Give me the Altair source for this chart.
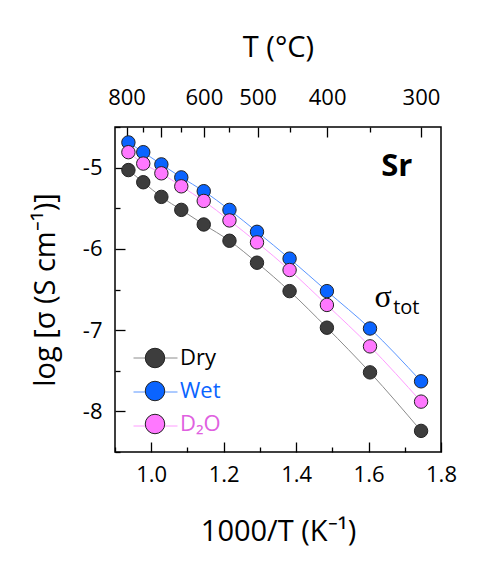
import altair as alt
import pandas as pd

# ---- data ----
inv_T = [0.937, 0.978, 1.028, 1.083, 1.145, 1.216, 1.292, 1.382, 1.485, 1.604, 1.745]
dry = [-5.03, -5.18, -5.36, -5.52, -5.70, -5.90, -6.17, -6.52, -6.97, -7.52, -8.24]
wet = [-4.69, -4.81, -4.96, -5.12, -5.29, -5.52, -5.79, -6.12, -6.52, -6.98, -7.63]
d2o = [-4.81, -4.95, -5.07, -5.23, -5.41, -5.65, -5.92, -6.26, -6.69, -7.20, -7.88]

series_names = ["Dry", "Wet", "D₂O"]
fill_colors = ["#3d3d3d", "#0a64ff", "#ff78ff"]
line_colors = ["#8c8c8c", "#5a96ff", "#ff9cff"]
label_colors = ["#000000", "#0a64ff", "#e060e0"]

x_major = [1.0, 1.2, 1.4, 1.6, 1.8]
x_minor = [0.9, 1.1, 1.3, 1.5, 1.7]
y_major = [-5, -6, -7, -8]
y_minor = [-4.5, -5.5, -6.5, -7.5, -8.5]
top_major_C = [800, 700, 600, 500, 400, 300]
top_minor_C = [750, 650, 550, 450, 350]
top_labels_C = [800, 600, 500, 400, 300]

ann_x = [1.678, 1.64, 1.668]
ann_y = [-5.10, -6.72, -6.80]
ann_text = ["Sr", "σ", "tot"]

rows = []
for name, vals in zip(series_names, [dry, wet, d2o]):
    for xv, yv in zip(inv_T, vals):
        rows.append({"x": xv, "y": yv, "series": name, "series_line": name + " "})
df = pd.DataFrame(rows)
ann = pd.DataFrame({"x": ann_x, "y": ann_y, "text": ann_text})
line_domain = [n + " " for n in series_names]

W, H = 326, 325
FONT = "Open Sans"
xscale = alt.Scale(domain=[0.9, 1.8], nice=False, zero=False)
yscale = alt.Scale(domain=[-8.5, -4.5], nice=False, zero=False)

common = dict(domain=False, grid=False, tickColor="black", tickWidth=1.3,
              labelFont=FONT, labelFontSize=22, labelColor="black",
              titleFont=FONT, titleFontSize=29, titleFontWeight="normal",
              titleColor="black", labelOverlap=False, labelFlush=False)

top_major_vals = [1000.0 / (c + 273.15) for c in top_major_C]
top_minor_vals = [1000.0 / (c + 273.15) for c in top_minor_C]
top_label_list = "[" + ",".join(str(c) for c in top_labels_C) + "]"
top_expr = ("indexof(" + top_label_list + ", round(1000/datum.value-273.15)) >= 0 ? "
            "format(round(1000/datum.value-273.15),'d') : ''")

label_expr_color = ("datum.label == '%s' ? '%s' : (datum.label == '%s' ? '%s' : '%s')"
                    % (series_names[1], label_colors[1], series_names[2], label_colors[2], label_colors[0]))

x_main = alt.X("x:Q", scale=xscale, axis=alt.Axis(
    orient="bottom", values=x_major, tickSize=10, offset=-10, labelPadding=12,
    format=".1f", title="1000/T (K⁻¹)", titlePadding=32, **common))
y_main = alt.Y("y:Q", scale=yscale, axis=alt.Axis(
    orient="left", values=y_major, tickSize=10, offset=-10, labelPadding=13,
    labelExpr="'-' + format(abs(datum.value),'d')",
    title="log [σ (S cm⁻¹)]", titlePadding=22, **common))
x_none = alt.X("x:Q", scale=xscale, axis=None)
y_none = alt.Y("y:Q", scale=yscale, axis=None)

lines = alt.Chart(df).mark_line(interpolate="monotone", strokeWidth=1).encode(
    x=x_main, y=y_main,
    stroke=alt.Stroke("series_line:N", scale=alt.Scale(domain=line_domain, range=line_colors),
                      legend=alt.Legend(orient="none", legendX=18, legendY=208.5, title=None,
                                        symbolType="stroke", symbolSize=1936, symbolStrokeWidth=1,
                                        symbolOpacity=1, labelExpr="''", labelFontSize=22,
                                        rowPadding=-11.5, padding=0, zindex=0)),
    detail="series:N",
)

points = alt.Chart(df).mark_circle(size=180, stroke="#222222", strokeWidth=1, opacity=1).encode(
    x=x_none,
    y=y_none,
    color=alt.Color("series:N", scale=alt.Scale(domain=series_names, range=fill_colors),
                    legend=alt.Legend(orient="none", legendX=29, legendY=220, title=None,
                                      symbolType="circle", symbolSize=380,
                                      symbolStrokeColor="#222222", symbolStrokeWidth=1,
                                      symbolOpacity=1, labelFont=FONT, labelFontSize=22,
                                      labelOffset=14, rowPadding=9, padding=0, zindex=1,
                                      labelColor=alt.ExprRef(expr=label_expr_color))),
)

def axis_layer(channel_x, channel_y):
    return alt.Chart(df).mark_point(opacity=0).encode(x=channel_x, y=channel_y)

bottom_minor = axis_layer(
    alt.X("x:Q", scale=xscale, axis=alt.Axis(orient="bottom", values=x_minor, tickSize=5, offset=-5,
                                             labels=False, title=None, **common)),
    y_none)

left_minor = axis_layer(
    x_none,
    alt.Y("y:Q", scale=yscale, axis=alt.Axis(orient="left", values=y_minor, tickSize=5, offset=-5,
                                             labels=False, title=None, **common)))

top_major = axis_layer(
    alt.X("x:Q", scale=xscale, axis=alt.Axis(orient="top", values=top_major_vals, tickSize=10, offset=-10,
                                             labelPadding=18, labelExpr=top_expr,
                                             title="T (°C)", titlePadding=24, **common)),
    y_none)

top_minor = axis_layer(
    alt.X("x:Q", scale=xscale, axis=alt.Axis(orient="top", values=top_minor_vals, tickSize=5, offset=-5,
                                             labels=False, title=None, **common)),
    y_none)

sr = alt.Chart(ann).transform_filter(alt.datum.text == "Sr").mark_text(
    font=FONT, fontSize=31, fontWeight="bold", color="black", align="center", baseline="alphabetic").encode(
    x=x_none, y=y_none, text="text:N")

sig = alt.Chart(ann).transform_filter(alt.datum.text == "σ").mark_text(
    font="Liberation Serif", fontSize=32, color="black", align="center", baseline="alphabetic").encode(
    x=x_none, y=y_none, text="text:N")

tot = alt.Chart(ann).transform_filter(alt.datum.text == "tot").mark_text(
    font=FONT, fontSize=20, color="black", align="left", baseline="alphabetic").encode(
    x=x_none, y=y_none, text="text:N")

chart = alt.layer(lines, points, bottom_minor, left_minor, top_major, top_minor, sr, sig, tot).resolve_axis(
    x="independent", y="independent"
).properties(
    width=W, height=H,
    padding={"left": 115, "top": 127, "right": 55, "bottom": 115},
    autosize=alt.AutoSizeParams(type="none"),
    background="white",
).configure_view(stroke="black", strokeWidth=1.5)

chart.save("out.html", embed_options={"renderer": "svg", "actions": False})
